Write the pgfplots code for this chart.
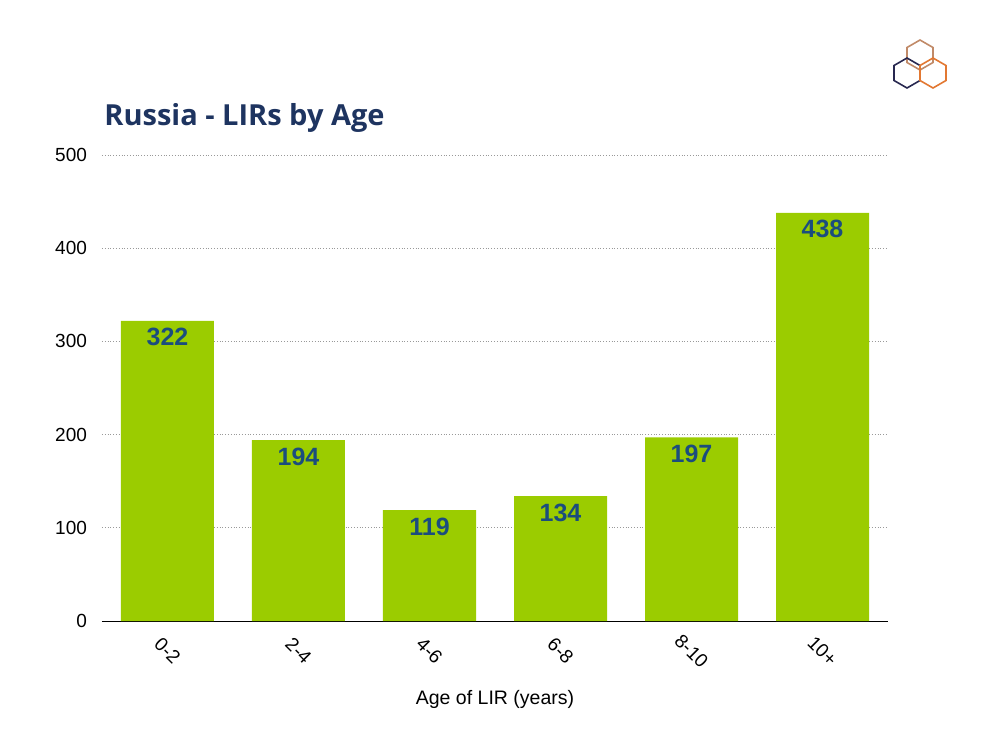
\documentclass[border=0pt]{standalone}
\usepackage{pgfplots}
\pgfplotsset{compat=1.18}
\usepackage{fontspec}
\setmainfont{Liberation Sans}
\newfontfamily\titlefont{Open Sans}
\definecolor{bargreen}{RGB}{155,204,0}
\definecolor{labelblue}{RGB}{27,77,126}
\definecolor{titleblue}{RGB}{30,52,96}
\definecolor{logoorange}{RGB}{226,120,50}
\definecolor{logonavy}{RGB}{40,40,80}
\definecolor{logogray}{RGB}{170,150,140}
\begin{document}
\begin{tikzpicture}[x=1pt,y=1pt]
\path[use as bounding box] (0,0) rectangle (496,-372);
% logo
\draw[logogray!60!logoorange, line width=0.8pt, shift={(460,-27.5)}] (90:7.5) -- (150:7.5) -- (210:7.5) -- (270:7.5) -- (330:7.5) -- (30:7.5) -- cycle;
\draw[logonavy, line width=0.8pt, shift={(453.5,-36.5)}] (90:7.5) -- (150:7.5) -- (210:7.5) -- (270:7.5) -- (330:7.5) -- (30:7.5) -- cycle;
\draw[logoorange, line width=0.8pt, shift={(466.5,-36.5)}] (90:7.5) -- (150:7.5) -- (210:7.5) -- (270:7.5) -- (330:7.5) -- (30:7.5) -- cycle;
% title
\node[anchor=base west, font=\titlefont\bfseries\fontsize{14.5}{17}\selectfont, text=titleblue, inner sep=0pt] at (52,-63) {Russia - LIRs by Age};
\begin{axis}[
  at={(51pt,-310.5pt)}, anchor=south west,
  scale only axis, width=393pt, height=233pt,
  xmin=-0.5, xmax=5.5, ymin=0, ymax=500,
  axis lines=left, axis line style={-},
  y axis line style={draw=none},
  major tick length=0pt,
  ytick={0,100,200,300,400,500},
  ymajorgrids, grid style={densely dotted, gray!80},
  xtick=data, xticklabels={0-2,2-4,4-6,6-8,8-10,10+},
  /pgf/number format/assume math mode=true,
  ticklabel style={font=\fontsize{9.5}{11}\selectfont},
  yticklabel style={xshift=-4pt},
  xticklabel style={yshift=-15pt, rotate=-45, anchor=center},
  xlabel={Age of LIR (years)},
  xlabel style={font=\fontsize{9.75}{11}\selectfont, at={(axis description cs:0.5,0)}, anchor=center, yshift=-39pt},
  ybar, bar width=46.5pt,
  nodes near coords,
  nodes near coords style={font=\bfseries\fontsize{12.5}{14}\selectfont, text=labelblue, anchor=center, yshift=-8.25pt},
]
\addplot[fill=bargreen, draw=none] coordinates {(0,322) (1,194) (2,119) (3,134) (4,197) (5,438)};
\end{axis}
\end{tikzpicture}
\end{document}
